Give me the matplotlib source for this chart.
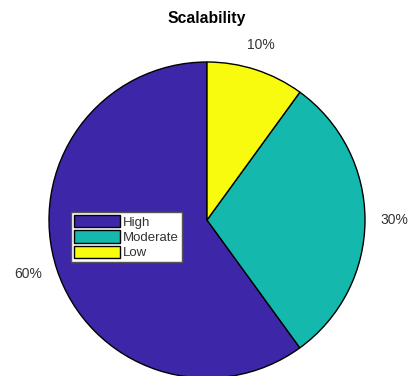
import matplotlib
matplotlib.use("Agg")
import matplotlib.pyplot as plt
from matplotlib.patches import Patch

categories = ["High", "Moderate", "Low"]
values = [60, 30, 10]
pct_labels = ["60%", "30%", "10%"]
colors = ["#3E26A8", "#15B8AC", "#F9FB0E"]
title = "Scalability"

plt.rcParams["font.family"] = ["Liberation Sans", "DejaVu Sans"]

W, H = 408, 376
fig = plt.figure(figsize=(W / 100, H / 100), dpi=100)
cx, cy, r = 207, 220, 158
ax = fig.add_axes([(cx - r) / W, (H - cy - r) / H, 2 * r / W, 2 * r / H])

wedges, texts = ax.pie(values, colors=colors, startangle=90, counterclock=True,
                       labels=pct_labels, labeldistance=1.1,
                       wedgeprops=dict(edgecolor="black", linewidth=1.0),
                       textprops=dict(fontsize=10, color="#333333"))
# MATLAB-like label alignment
for t in texts:
    x, y = t.get_position()
    if abs(x) < 0.5:
        t.set_ha("center")
    if y > 0.8:
        t.set_va("bottom")
        t.set_position((x, y + 0.02))

ax.set_xlim(-1, 1)
ax.set_ylim(-1, 1)
ax.set_aspect("equal")
ax.axis("off")

fig.text(cx / W, 1 - 19 / H, title, ha="center", va="center",
         fontsize=11.3, fontweight="bold", color="black")

handles = [Patch(facecolor=c, edgecolor="black", linewidth=1.0) for c in colors]
leg = ax.legend(handles, categories, loc="upper left",
                bbox_to_anchor=(0.07, 0.525), borderaxespad=0,
                fontsize=9.5, handlelength=3.5, handleheight=1.1,
                handletextpad=0.25, labelspacing=0.12, borderpad=0.2,
                fancybox=False, framealpha=1, edgecolor="#555555")
leg.get_frame().set_linewidth(1.0)
for t in leg.get_texts():
    t.set_color("#333333")

fig.savefig("out.png", dpi=100)
